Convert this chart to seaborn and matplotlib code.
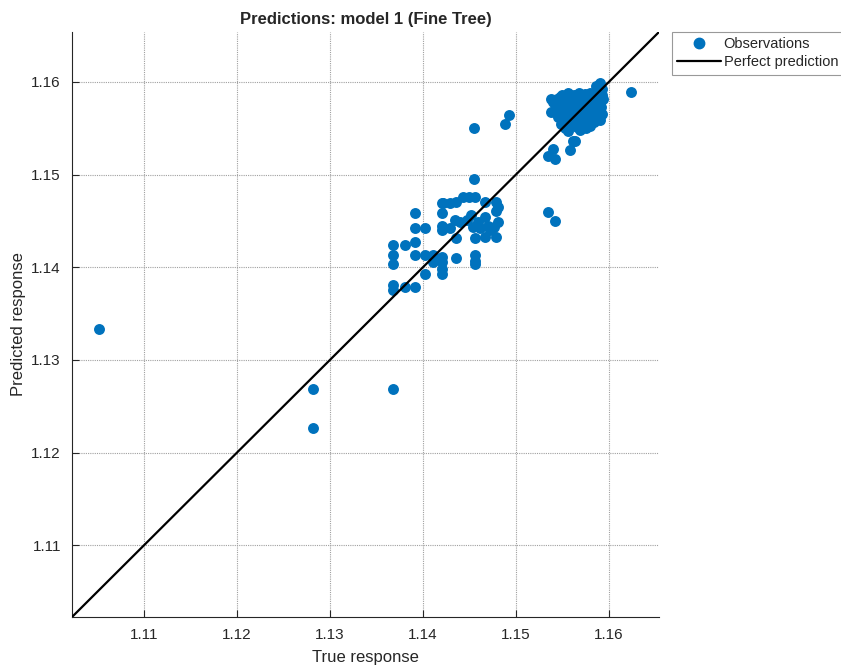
import matplotlib
matplotlib.use("Agg")
import matplotlib.pyplot as plt
import seaborn as sns
import pandas as pd
from matplotlib.lines import Line2D

# ---- data ----
true_outliers = [1.1052, 1.1282, 1.1282, 1.1368, 1.1624, 1.1534, 1.1542]
pred_outliers = [1.1333, 1.1269, 1.1226, 1.1269, 1.1589, 1.1460, 1.1450]

true_mid = [1.1488, 1.1492, 1.1455, 1.1455,
            1.1422, 1.1429, 1.1436, 1.1443, 1.1449, 1.1456,
            1.1420, 1.1420, 1.1467, 1.1479, 1.1481, 1.1479,
            1.1391, 1.1391, 1.1402,
            1.1420, 1.1420, 1.1429, 1.1434, 1.1440, 1.1447, 1.1452, 1.1454, 1.1459,
            1.1461, 1.1467, 1.1470, 1.1476, 1.1472, 1.1481,
            1.1436, 1.1456, 1.1467, 1.1479,
            1.1368, 1.1381, 1.1391,
            1.1368, 1.1368, 1.1391, 1.1402, 1.1411, 1.1420, 1.1411, 1.1420, 1.1420,
            1.1420, 1.1436, 1.1456, 1.1456, 1.1456,
            1.1402,
            1.1368, 1.1368, 1.1381, 1.1391]
pred_mid = [1.1555, 1.1564, 1.1550, 1.1495,
            1.1469, 1.1469, 1.1470, 1.1476, 1.1476, 1.1476,
            1.1469, 1.1458, 1.1470, 1.1470, 1.1465, 1.1461,
            1.1458, 1.1442, 1.1442,
            1.1445, 1.1440, 1.1442, 1.1451, 1.1449, 1.1451, 1.1456, 1.1443, 1.1449,
            1.1442, 1.1454, 1.1445, 1.1443, 1.1440, 1.1449,
            1.1431, 1.1431, 1.1433, 1.1433,
            1.1424, 1.1424, 1.1427,
            1.1413, 1.1404, 1.1413, 1.1413, 1.1413, 1.1411, 1.1406, 1.1406, 1.1398,
            1.1393, 1.1410, 1.1413, 1.1407, 1.1404,
            1.1393,
            1.1381, 1.1375, 1.1379, 1.1379]

true_low_cluster = [1.1540, 1.1534, 1.1542, 1.1558, 1.1561, 1.1556, 1.1569, 1.1564]
pred_low_cluster = [1.1528, 1.1520, 1.1517, 1.1526, 1.1536, 1.1547, 1.1548, 1.1536]

true_dense = [1.1590, 1.1586,
              1.1544, 1.1550, 1.1556, 1.1562, 1.1568, 1.1574, 1.1580, 1.1586, 1.1592,
              1.1540, 1.1547, 1.1553, 1.1560, 1.1566, 1.1572, 1.1578, 1.1584, 1.1590, 1.1594,
              1.1542, 1.1548, 1.1555, 1.1561, 1.1567, 1.1573, 1.1579, 1.1585, 1.1591,
              1.1545, 1.1551, 1.1557, 1.1563, 1.1569, 1.1575, 1.1581, 1.1587, 1.1592,
              1.1548, 1.1555, 1.1562, 1.1570, 1.1577, 1.1584, 1.1590,
              1.1553, 1.1566, 1.1575, 1.1538, 1.1538,
              1.1547, 1.1553, 1.1559, 1.1565, 1.1571, 1.1577, 1.1583, 1.1589,
              1.1544, 1.1550, 1.1558, 1.1564, 1.1572, 1.1578, 1.1584, 1.1590,
              1.1548, 1.1554, 1.1560, 1.1566, 1.1572, 1.1580, 1.1587,
              1.1558, 1.1562, 1.1570, 1.1580, 1.1545, 1.1593]
pred_dense = [1.1599, 1.1595,
              1.1582, 1.1586, 1.1588, 1.1586, 1.1588, 1.1587, 1.1588, 1.1587, 1.1586,
              1.1578, 1.1575, 1.1578, 1.1576, 1.1579, 1.1577, 1.1580, 1.1578, 1.1580, 1.1582,
              1.1570, 1.1568, 1.1570, 1.1568, 1.1571, 1.1569, 1.1572, 1.1570, 1.1573,
              1.1562, 1.1560, 1.1563, 1.1561, 1.1563, 1.1560, 1.1563, 1.1561, 1.1565,
              1.1555, 1.1553, 1.1556, 1.1554, 1.1556, 1.1557, 1.1559,
              1.1550, 1.1551, 1.1550, 1.1582, 1.1568,
              1.1584, 1.1583, 1.1584, 1.1583, 1.1584, 1.1583, 1.1584, 1.1583,
              1.1574, 1.1573, 1.1574, 1.1573, 1.1574, 1.1575, 1.1574, 1.1576,
              1.1566, 1.1565, 1.1566, 1.1565, 1.1566, 1.1567, 1.1566,
              1.1558, 1.1559, 1.1558, 1.1552, 1.1575, 1.1592]

true_response = true_outliers + true_mid + true_low_cluster + true_dense
predicted_response = pred_outliers + pred_mid + pred_low_cluster + pred_dense

ticks = [1.11, 1.12, 1.13, 1.14, 1.15, 1.16]
tick_labels = ["1.11", "1.12", "1.13", "1.14", "1.15", "1.16"]
lims = (1.10226, 1.16538)

df = pd.DataFrame({"True response": true_response, "Predicted response": predicted_response})

sns.set_style("white")
plt.rcParams["font.family"] = ["Liberation Sans", "DejaVu Sans"]

fig = plt.figure(figsize=(8.41, 6.69), dpi=100)
ax = fig.add_axes([0.0856, 0.0777, 0.6980, 0.8745])

blue = "#0072BD"
sns.scatterplot(data=df, x="True response", y="Predicted response", ax=ax,
                color=blue, s=62, edgecolor=blue, linewidth=0, zorder=3, legend=False)
sns.lineplot(x=list(lims), y=list(lims), ax=ax, color="black", linewidth=1.6, zorder=4)

ax.set_xlim(lims)
ax.set_ylim(lims)
ax.set_xticks(ticks)
ax.set_xticklabels(tick_labels)
ax.set_yticks(ticks)
ax.set_yticklabels(tick_labels)

ax.grid(True, linestyle=(0, (1, 1)), color="#a0a0a0", linewidth=0.8, zorder=0)
ax.set_axisbelow(True)
for side in ["top", "right"]:
    ax.spines[side].set_visible(False)
for side in ["left", "bottom"]:
    ax.spines[side].set_color("#262626")
    ax.spines[side].set_linewidth(0.8)
ax.tick_params(direction="in", length=5, width=0.8, colors="#262626",
               labelsize=11, labelcolor="#262626", bottom=True, left=True, pad=8)

ax.set_xlabel("True response", fontsize=12, color="#262626", labelpad=6)
ax.set_ylabel("Predicted response", fontsize=12, color="#262626", labelpad=4)
ax.set_title("Predictions: model 1 (Fine Tree)", fontsize=12, fontweight="bold", pad=6)

handles = [
    Line2D([], [], linestyle="none", marker="o", markersize=7.5, color=blue),
    Line2D([], [], color="black", linewidth=1.6),
]
leg = ax.legend(handles, ["Observations", "Perfect prediction"],
                loc="upper left", bbox_to_anchor=(1.022, 1.0), fontsize=10.5,
                frameon=True, fancybox=False, borderpad=0.35, labelspacing=0.3,
                handlelength=3.0, handletextpad=0.2, borderaxespad=0)
leg.get_frame().set_edgecolor("#808080")
leg.get_frame().set_linewidth(0.8)

fig.savefig("out.png", dpi=100)
